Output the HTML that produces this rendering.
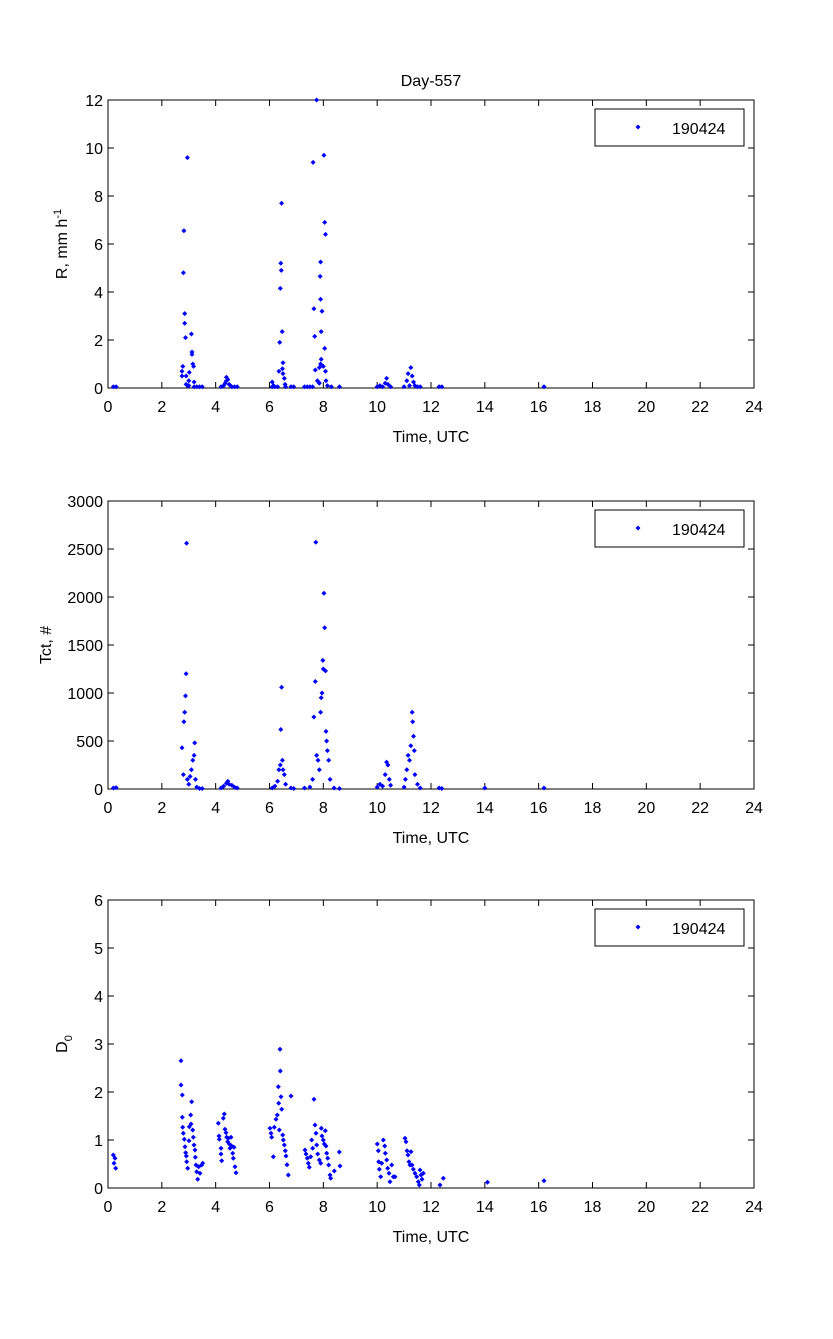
<!DOCTYPE html>
<html><head><meta charset="utf-8"><style>
body{margin:0;background:#fff}
svg text{font-family:"Liberation Sans",sans-serif;font-size:16px;fill:#000}
</style></head><body>
<svg id="s" width="833" height="1334" xmlns="http://www.w3.org/2000/svg">
<rect width="833" height="1334" fill="#fff"/>
<text x="431" y="86" text-anchor="middle">Day-557</text>
</svg>
<script>
const S=document.getElementById('s'),NS='http://www.w3.org/2000/svg';
function el(t,a,txt){const e=document.createElementNS(NS,t);for(const k in a)e.setAttribute(k,a[k]);if(txt!==undefined)e.textContent=txt;S.appendChild(e);return e;}
const L=108,R=754,W=R-L;
function hx(h){return L+h/24*W;}
let pts='';
function mk(x,y){pts+=`M${x.toFixed(1)} ${(y-2.5).toFixed(1)}l2.5 2.5l-2.5 2.5l-2.5-2.5z`;}
function axes(top,bot,yt,ylab,lx){
  el('rect',{x:L,y:top,width:W,height:bot-top,fill:'none',stroke:'#000','stroke-width':1});
  for(let i=0;i<=12;i++){const x=L+i*W/12;
    el('line',{x1:x,y1:bot,x2:x,y2:bot-6,stroke:'#000'});el('line',{x1:x,y1:top,x2:x,y2:top+6,stroke:'#000'});
    el('text',{x:x,y:bot+24,'text-anchor':'middle'},String(i*2));}
  yt.forEach((v,i)=>{const y=bot-i*(bot-top)/(yt.length-1);
    el('line',{x1:L,y1:y,x2:L+6,y2:y,stroke:'#000'});el('line',{x1:R,y1:y,x2:R-6,y2:y,stroke:'#000'});
    el('text',{x:L-5,y:y+6,'text-anchor':'end'},v);});
  el('text',{x:431,y:bot+54,'text-anchor':'middle'},'Time, UTC');
  const t=el('text',{transform:`translate(${lx},${(top+bot)/2}) rotate(-90)`,'text-anchor':'middle'});
  t.innerHTML=ylab;
  el('rect',{x:595,y:top+9,width:149,height:37,fill:'#fff',stroke:'#000'});
  mk(638,top+27);
  el('text',{x:672,y:top+34},'190424');
}
axes(100,388,['0','2','4','6','8','10','12'],'R, mm h<tspan dy="-6" font-size="11">-1</tspan>',67);
axes(501,789,['0','500','1000','1500','2000','2500','3000'],'Tct, #',51);
axes(900,1188,['0','1','2','3','4','5','6'],'D<tspan dy="5" font-size="11">0</tspan>',67);
const p1=[[0.2,.05],[0.3,.05],[2.75,.5],[2.75,.7],[2.78,.9],[2.8,4.8],[2.82,6.55],[2.85,2.7],[2.85,3.1],[2.88,2.1],[2.9,.5],[2.9,.15],[2.95,.1],[2.95,9.6],[3.0,.3],[3.0,.1],[3.02,.65],[3.1,2.25],[3.12,1.5],[3.12,1.4],[3.15,1.0],[3.18,.9],[3.2,.25],[3.2,.05],[3.3,.05],[3.4,.05],[3.5,.05],
[4.2,.05],[4.3,.1],[4.35,.2],[4.4,.3],[4.4,.45],[4.45,.35],[4.5,.15],[4.55,.1],[4.6,.05],[4.7,.05],[4.8,.05],[6.1,.05],[6.1,.25],[6.15,.1],[6.2,.05],[6.3,.05],[6.35,.7],[6.38,1.9],[6.4,4.15],[6.42,5.2],[6.44,4.9],[6.45,7.7],[6.47,2.35],[6.48,.8],[6.5,1.05],[6.5,.6],[6.55,.4],[6.58,.15],[6.6,.05],[6.8,.05],[6.9,.05],
[7.3,.05],[7.4,.05],[7.5,.05],[7.6,.05],[7.62,9.4],[7.65,3.3],[7.68,2.15],[7.7,.75],[7.75,12],[7.78,.3],[7.82,.25],[7.85,.2],[7.9,1.0],[7.92,1.2],[7.92,2.35],[7.88,4.65],[7.9,5.25],[7.9,3.7],[7.95,3.2],[7.85,.85],[8.02,9.7],[8.05,6.9],[8.08,6.4],[8.0,.9],[8.05,1.65],[8.08,.7],[8.1,.3],[8.15,.1],[8.3,.05],[8.6,.05],
[10.0,.05],[10.1,.1],[10.2,.05],[10.3,.2],[10.35,.4],[10.4,.15],[10.5,.05],[11.0,.05],[11.1,.3],[11.15,.6],[11.2,.1],[11.25,.85],[11.3,.5],[11.35,.25],[11.4,.1],[11.5,.05],[11.6,.05],[12.3,.05],[12.4,.05],[16.2,.05]];
p1.forEach(p=>mk(hx(p[0]),388-p[1]*24));
const p2=[[0.2,10],[0.3,15],[2.75,430],[2.8,150],[2.82,700],[2.85,800],[2.88,970],[2.9,1200],[2.92,2560],[2.95,100],[3.0,50],[3.05,130],[3.1,200],[3.15,300],[3.2,350],[3.22,480],[3.25,100],[3.3,20],[3.4,5],[3.5,5],
[4.2,10],[4.3,30],[4.4,60],[4.45,80],[4.5,50],[4.6,40],[4.7,20],[4.8,10],[6.1,10],[6.2,30],[6.3,80],[6.35,200],[6.4,250],[6.42,620],[6.45,1060],[6.48,300],[6.5,200],[6.55,150],[6.6,50],[6.8,10],[6.9,5],
[7.3,10],[7.5,20],[7.6,100],[7.65,750],[7.7,1120],[7.72,2570],[7.75,350],[7.8,300],[7.85,200],[7.9,800],[7.92,950],[7.95,1000],[7.98,1340],[8.0,1250],[8.02,2040],[8.05,1680],[8.08,1230],[8.1,600],[8.12,500],[8.15,400],[8.2,300],[8.25,100],[8.4,10],[8.6,5],
[10.0,20],[10.1,50],[10.2,30],[10.3,150],[10.35,280],[10.4,250],[10.45,100],[10.5,40],[11.0,20],[11.05,100],[11.1,200],[11.15,350],[11.2,300],[11.25,450],[11.3,800],[11.32,700],[11.35,550],[11.38,400],[11.4,150],[11.5,50],[11.6,10],[12.3,10],[12.4,5],[14.0,10],[16.2,10]];
p2.forEach(p=>mk(hx(p[0]),789-p[1]*288/3000));
const p3=[[70,375],[75,385],[72,400],[77,415],[273,92],[273,165],[277,195],[277,262],[278,292],[280,310],[283,328],[285,350],[287,368],[289,378],[290,395],[293,415],[297,332],[298,290],[302,255],[303,282],[305,215],[308,300],[310,322],[312,345],[315,360],[316,382],[318,405],[320,425],[323,448],[326,410],[330,430],[335,405],[338,400],
[385,280],[387,318],[388,328],[393,355],[393,372],[395,392],[400,265],[403,252],[405,298],[408,308],[410,322],[413,335],[415,325],[418,342],[420,355],[423,322],[425,348],[428,370],[430,385],[432,352],[435,410],[438,428],
[540,295],[543,310],[545,322],[550,380],[553,292],[558,268],[562,255],[565,170],[566,220],[568,300],[570,58],[571,123],[573,200],[575,238],[578,315],[580,330],[583,345],[586,362],[588,378],[591,404],[595,435],[603,198],
[645,360],[648,372],[652,385],[655,400],[658,412],[662,380],[665,330],[668,355],[672,208],[675,285],[678,310],[680,345],[683,372],[688,390],[692,400],[694,295],[696,318],[700,330],[703,342],[706,302],[708,348],[710,370],[713,385],[716,405],[720,435],[722,445],[733,423],[748,366],[750,408],
[862,342],[865,362],[866,395],[868,418],[872,440],[875,400],[880,330],[884,348],[886,370],[890,390],[893,415],[897,430],[900,455],[905,405],[910,440],[915,440],
[945,325],[948,335],[951,362],[954,375],[957,395],[960,405],[963,365],[966,405],[970,418],[975,430],[980,440],[985,455],[988,465],[990,420],[993,435],[996,448],[1000,430],[1050,465],[1060,445]];
p3.forEach(p=>mk(90+p[0]/3,1030+p[1]/3));
mk(hx(14.1),1188-0.12*48);mk(hx(16.2),1188-0.15*48);
el('path',{d:pts,fill:'#0000ff'});
</script>
</body></html>
